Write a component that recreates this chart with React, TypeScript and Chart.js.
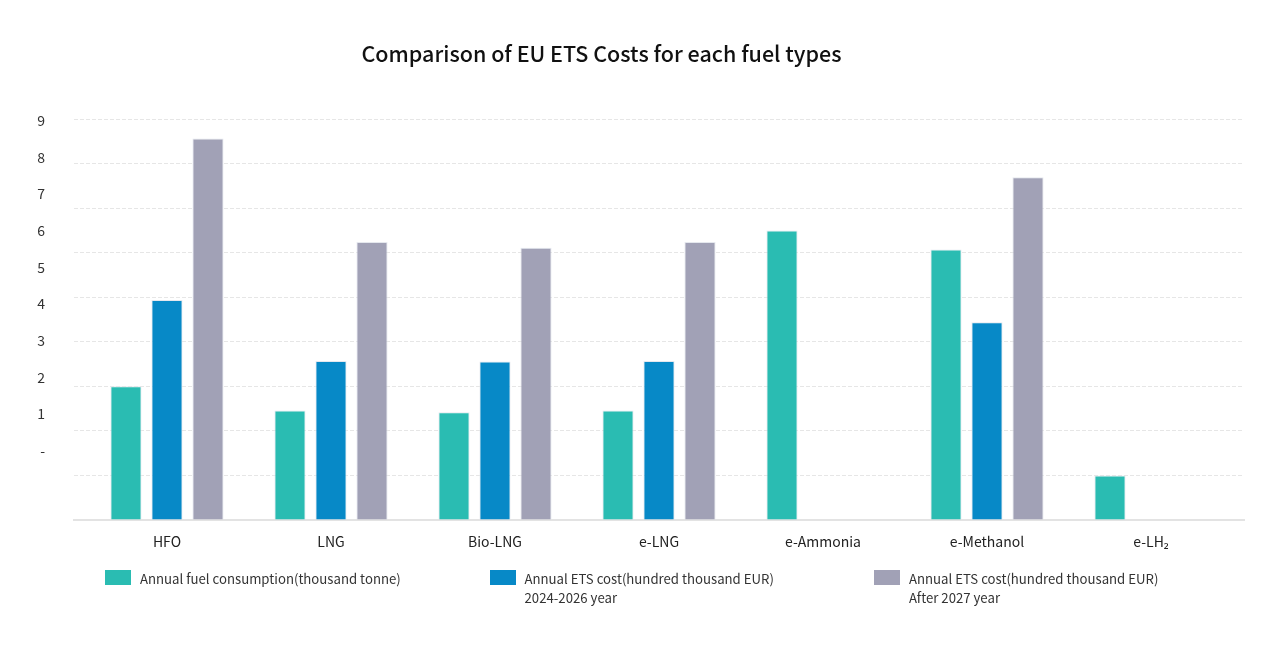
import React, { useEffect, useRef } from "react";
import { Chart, registerables } from "chart.js";

Chart.register(...registerables);

const chartTitle = "Comparison of EU ETS Costs for each fuel types";
const categories = ["HFO", "LNG", "Bio-LNG", "e-LNG", "e-Ammonia", "e-Methanol", "e-LH₂"];
const fuelConsumption = [3.0, 2.46, 2.42, 2.46, 6.5, 6.07, 1.0];
const etsCost2024to2026 = [4.94, 3.57, 3.56, 3.57, null, 4.44, null];
const etsCostAfter2027 = [8.56, 6.24, 6.11, 6.24, null, 7.69, null];
const seriesNames = [
  ["Annual fuel consumption(thousand tonne)"],
  ["Annual ETS cost(hundred thousand EUR)", "2024-2026 year"],
  ["Annual ETS cost(hundred thousand EUR)", "After 2027 year"],
];
const seriesColors = ["#2abcb2", "#0789c7", "#a1a1b6"];
const gridValues = [0, 1, 2, 3, 4, 5, 6, 7, 8, 9];
const tickLabelValues = [0, 1, 2, 3, 4, 5, 6, 7, 8, 9];
const tickLabelTexts = ["-", "1", "2", "3", "4", "5", "6", "7", "8", "9"];

const FONT = "'Noto Sans CJK KR', 'Noto Sans', sans-serif";

export default function App() {
  const canvasRef = useRef<HTMLCanvasElement | null>(null);

  useEffect(() => {
    if (!canvasRef.current) return;
    const seriesData = [fuelConsumption, etsCost2024to2026, etsCostAfter2027];
    const chart = new Chart(canvasRef.current, {
      type: "bar",
      data: {
        labels: categories,
        datasets: seriesData.map((d, i) => ({
          label: seriesNames[i].join(" "),
          data: d,
          backgroundColor: seriesColors[i],
          borderColor: "rgba(226,230,236,0.9)",
          borderWidth: 1,
          categoryPercentage: 0.75,
          barPercentage: 0.76,
          yAxisID: "y",
        })),
      },
      options: {
        responsive: true,
        maintainAspectRatio: false,
        animation: false,
        layout: { padding: { top: 111, right: 19, bottom: 99, left: 0 } },
        plugins: {
          legend: { display: false },
          title: { display: false },
          tooltip: { enabled: false },
        },
        scales: {
          x: {
            grid: { display: false, drawTicks: false },
            border: { display: true, color: "#e3e3e3", width: 2 },
            ticks: {
              padding: 13,
              color: "#222",
              font: { family: FONT, size: 14 },
            },
            afterFit: (s: any) => {
              s.height = 40;
            },
            afterBuildTicks: (s: any) => {
              const extra = 0.067;
              s._startValue -= extra;
              s._valueRange += 2 * extra;
            },
          },
          y: {
            position: "left",
            min: 0,
            max: 9,
            afterBuildTicks: (s: any) => {
              s.ticks = gridValues.map((v) => ({ value: v }));
            },
            grid: {
              color: "#e6e6e6",
              lineWidth: 1,
              drawTicks: false,
            },
            border: { display: false, dash: [4, 2] },
            ticks: { display: false },
            afterFit: (s: any) => {
              s.width = 0;
            },
          },
          y2: {
            position: "left",
            min: -1.89,
            max: 9.046,
            afterBuildTicks: (s: any) => {
              s.ticks = tickLabelValues.map((v) => ({ value: v }));
            },
            grid: { display: false, drawTicks: false },
            border: { display: false },
            ticks: {
              padding: 29,
              color: "#333",
              font: { family: FONT, size: 14 },
              callback: (v: any) => tickLabelTexts[tickLabelValues.indexOf(Number(v))] ?? "",
            },
            afterFit: (s: any) => {
              s.width = 66;
            },
          },
        },
      } as any,
    });
    return () => chart.destroy();
  }, []);

  return (
    <div style={{ position: "relative", width: 1255, height: 651, fontFamily: FONT }}>
      <canvas ref={canvasRef} />
      <div
        style={{
          position: "absolute",
          top: 30,
          left: 593.5,
          transform: "translateX(-50%)",
          whiteSpace: "nowrap",
          fontSize: 21.5,
          fontWeight: 500,
          color: "#111",
          lineHeight: "30px",
        }}
      >
        {chartTitle}
      </div>
      {seriesNames.map((lines, i) => (
        <div
          key={i}
          style={{
            position: "absolute",
            top: 562,
            left: 97 + i * 384.5,
            display: "flex",
            alignItems: "flex-start",
          }}
        >
          <div style={{ width: 26, height: 15, background: seriesColors[i], flex: "none" }} />
          <div style={{ marginLeft: 9, marginTop: -1.5, fontSize: 13.2, lineHeight: "19px", color: "#333", whiteSpace: "nowrap" }}>
            {lines.map((t, j) => (
              <div key={j}>{t}</div>
            ))}
          </div>
        </div>
      ))}
    </div>
  );
}
